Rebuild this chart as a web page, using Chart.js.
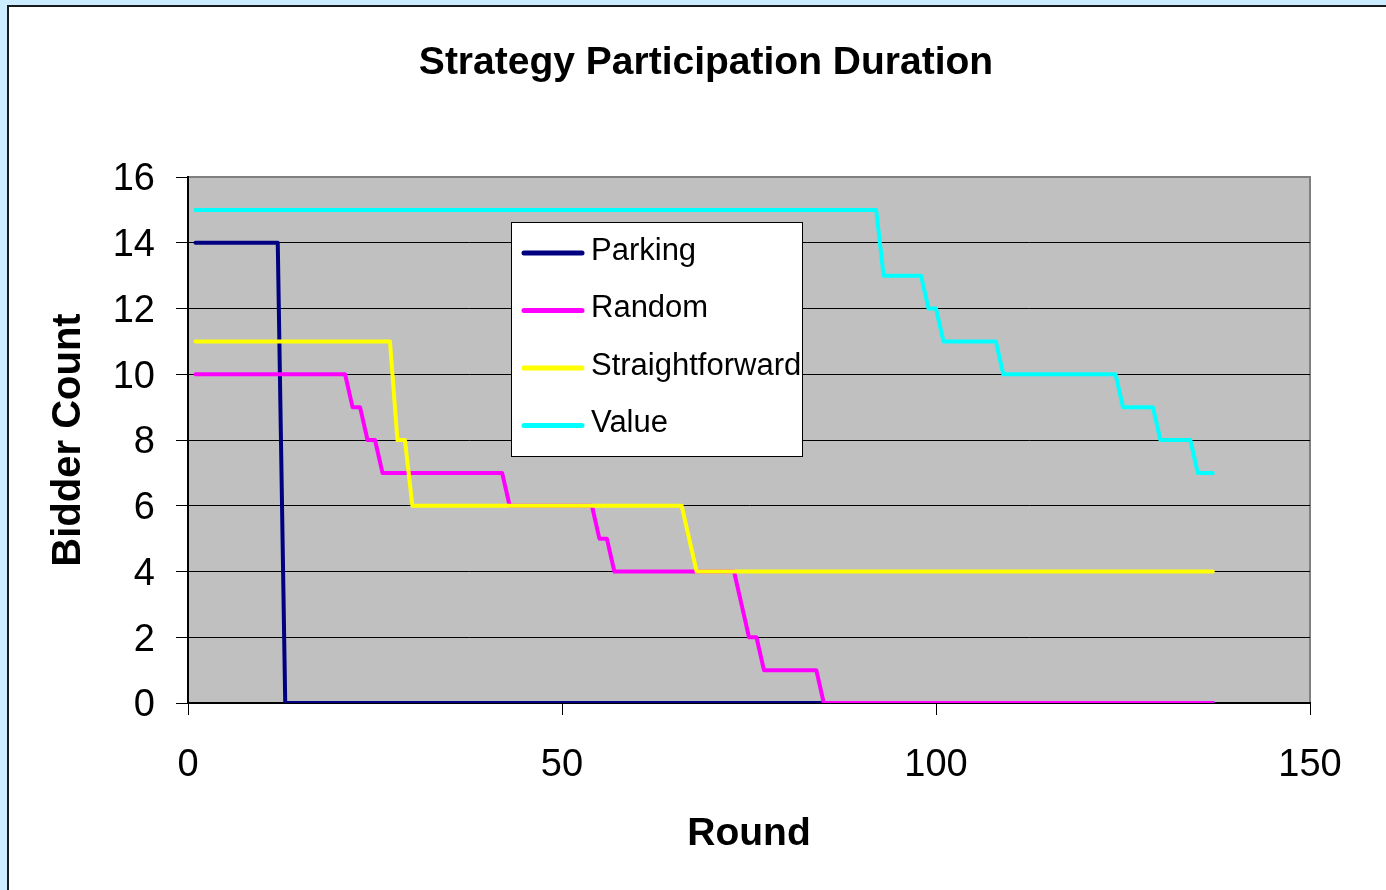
<!DOCTYPE html>
<html>
<head>
<meta charset="utf-8">
<title>Strategy Participation Duration</title>
<script src="https://cdn.jsdelivr.net/npm/chart.js@4.4.0/dist/chart.umd.min.js"></script>
<style>
  html, body { margin: 0; padding: 0; background: #ccecff; overflow: hidden; }
  #frame {
    position: absolute; left: 7px; top: 5px; width: 1400px; height: 900px;
    background: #fff; border-left: 2px solid #1a1a1a; border-top: 2px solid #1a1a1a;
  }
  #chart { position: absolute; left: 0; top: 0; }
</style>
</head>
<body>
<div id="frame"></div>
<canvas id="chart" width="1386" height="890"></canvas>
<script>
const seriesNames = ['Parking', 'Random', 'Straightforward', 'Value'];
const seriesColors = ['#000080', '#ff00ff', '#ffff00', '#00ffff'];

// rounds where a count changes, and the bidder count at each of those rounds
const parkingRounds = [1, 12, 13, 137];
const parkingCounts = [14, 14, 0, 0];
const randomRounds = [1, 21, 22, 23, 24, 25, 26, 42, 43, 54, 55, 56, 57, 73, 74, 75, 76, 77, 84, 85, 137];
const randomCounts = [10, 10, 9, 9, 8, 8, 7, 7, 6, 6, 5, 5, 4, 4, 3, 2, 2, 1, 1, 0, 0];
const straightRounds = [1, 27, 28, 29, 30, 66, 68, 137];
const straightCounts = [11, 11, 8, 8, 6, 6, 4, 4];
const valueRounds = [1, 92, 93, 98, 99, 100, 101, 108, 109, 124, 125, 129, 130, 134, 135, 137];
const valueCounts = [15, 15, 13, 13, 12, 12, 11, 11, 10, 10, 9, 9, 8, 8, 7, 7];

const roundTicks = { min: 0, max: 150, step: 50 };
const countTicks = { min: 0, max: 16, step: 2 };

const FONT = '"Liberation Sans", Arial, sans-serif';

function points(rounds, counts) {
    return rounds.map((r, i) => ({ x: r, y: counts[i] }));
}

const allSeries = [
    points(parkingRounds, parkingCounts),
    points(randomRounds, randomCounts),
    points(straightRounds, straightCounts),
    points(valueRounds, valueCounts)
];

// grey plot area with a thin grey frame
const plotBackground = {
    id: 'plotBackground',
    beforeDraw(chart) {
        const { ctx, chartArea: a } = chart;
        ctx.save();
        ctx.fillStyle = '#c0c0c0';
        ctx.fillRect(a.left, a.top, a.right - a.left, a.bottom - a.top);
        ctx.strokeStyle = '#808080';
        ctx.lineWidth = 2;
        ctx.strokeRect(a.left, a.top, a.right - a.left, a.bottom - a.top);
        ctx.restore();
    }
};

const chartTitle = {
    id: 'chartTitle',
    afterDraw(chart, args, opts) {
        const ctx = chart.ctx;
        ctx.save();
        ctx.font = 'bold 39px ' + FONT;
        ctx.fillStyle = '#000';
        ctx.textAlign = 'center';
        ctx.textBaseline = 'middle';
        ctx.fillText(opts.text, opts.x, opts.y);
        ctx.restore();
    }
};

// legend box sitting inside the plot
const boxLegend = {
    id: 'boxLegend',
    afterDraw(chart, args, opts) {
        const ctx = chart.ctx;
        ctx.save();
        ctx.fillStyle = '#fff';
        ctx.fillRect(opts.left, opts.top, opts.width, opts.height);
        ctx.strokeStyle = '#000';
        ctx.lineWidth = 1;
        ctx.strokeRect(opts.left + 0.5, opts.top + 0.5, opts.width, opts.height);
        ctx.font = '31px ' + FONT;
        ctx.textBaseline = 'middle';
        ctx.lineCap = 'round';
        chart.data.datasets.forEach((ds, i) => {
            const y = opts.firstRow + i * opts.rowHeight;
            ctx.strokeStyle = ds.borderColor;
            ctx.lineWidth = 5;
            ctx.beginPath();
            ctx.moveTo(opts.left + 13, y);
            ctx.lineTo(opts.left + 71, y);
            ctx.stroke();
            ctx.fillStyle = '#000';
            ctx.fillText(ds.label, opts.left + 80, y - 2);
        });
        ctx.restore();
    }
};

new Chart(document.getElementById('chart'), {
    type: 'line',
    data: {
        datasets: seriesNames.map((name, i) => ({
            label: name,
            data: allSeries[i],
            borderColor: seriesColors[i],
            backgroundColor: seriesColors[i],
            borderWidth: 4,
            pointRadius: 0,
            tension: 0,
            borderJoinStyle: 'round',
            borderCapStyle: 'round',
            clip: { left: 6, top: 6, right: 6, bottom: 0 },
            order: seriesNames.length - i
        }))
    },
    options: {
        responsive: false,
        animation: false,
        layout: { padding: { left: 9, top: 177, right: 76, bottom: 0 } },
        scales: {
            x: {
                type: 'linear',
                min: roundTicks.min,
                max: roundTicks.max,
                afterFit(scale) { scale.height = 187; },
                ticks: { stepSize: roundTicks.step, color: '#000', font: { size: 38, family: FONT }, padding: 28, maxRotation: 0 },
                grid: { drawOnChartArea: false, tickLength: 12, tickColor: '#000' },
                border: { color: '#000', width: 2 },
                title: {
                    display: true, text: 'Round', color: '#000',
                    font: { size: 39, weight: 'bold', family: FONT },
                    padding: { top: 0, bottom: 32 }
                }
            },
            y: {
                min: countTicks.min,
                max: countTicks.max,
                afterFit(scale) { scale.width = 179; },
                ticks: { stepSize: countTicks.step, color: '#000', font: { size: 38, family: FONT }, padding: 21, labelOffset: 3 },
                grid: {
                    color: c => (c.tick && c.tick.value === countTicks.max) ? 'rgba(0,0,0,0)' : '#000',
                    tickColor: '#000',
                    tickLength: 12,
                    lineWidth: 1
                },
                border: { color: '#000', width: 2 },
                title: {
                    display: true, text: 'Bidder Count', color: '#000',
                    font: { size: 40, weight: 'bold', family: FONT },
                    padding: { top: 36, bottom: 0 }
                }
            }
        },
        plugins: {
            legend: { display: false },
            tooltip: { enabled: false },
            chartTitle: { text: 'Strategy Participation Duration', x: 706, y: 63 },
            boxLegend: { left: 511, top: 222, width: 291, height: 234, firstRow: 253, rowHeight: 57.5 }
        }
    },
    plugins: [plotBackground, chartTitle, boxLegend]
});
</script>
</body>
</html>
